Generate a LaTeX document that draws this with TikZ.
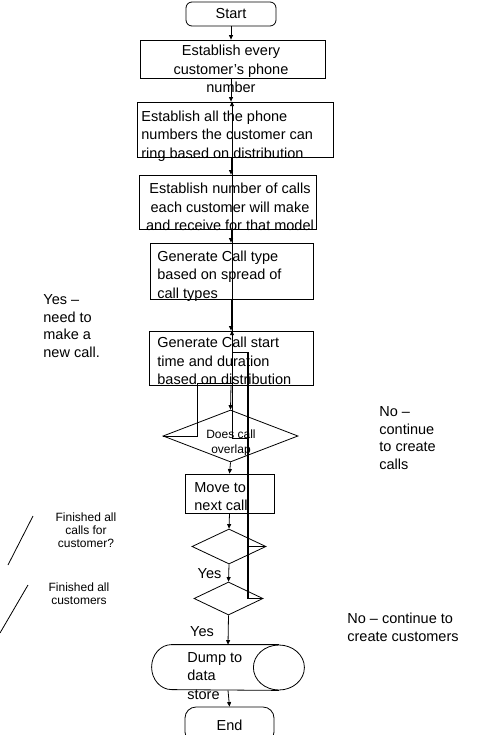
\documentclass[tikz,border=0pt]{standalone}
\usepackage{fontspec}
\setmainfont{Liberation Sans}
\usepackage{tikz}
\newcommand{\FlowFont}{\fontsize{14.5pt}{18.5pt}\selectfont}
\newcommand{\NoteFont}{\fontsize{14.5pt}{17.5pt}\selectfont}
\newcommand{\TinyNoteFont}{\fontsize{12pt}{13pt}\selectfont}
\usetikzlibrary{
	positioning,
	calc,
	arrows.meta,
	shapes.geometric
}
\begin{document}
\begin{tikzpicture}[
		x=1pt, y=-1pt,
		line width=0.8pt,
		framed/.style={draw, inner sep=0pt},
		terminal/.style={framed, font=\FlowFont},
		decision/.style={draw, diamond, inner sep=0pt},
		boxtext/.style={inner sep=0pt, font=\FlowFont},
		note/.style={inner sep=0pt, font=\NoteFont, align=left},
		tinynote/.style={inner sep=0pt, font=\TinyNoteFont, align=center},
		flow/.style={-{Triangle[length=4.5pt,width=4pt]}},
		loopline/.style={line width=0.8pt},
		loopthick/.style={line width=2pt}
	]
		\useasboundingbox (0,0) rectangle (477,735);

		\coordinate (spine) at (231,0);
		\coordinate (upline) at (232,0);

		\node[terminal, rounded corners=6pt, minimum width=90pt, minimum height=24pt] (start) at (231,14) {Start};

		\node[framed, minimum width=185pt, minimum height=38pt] (phonebox) at (232.5,59) {};
		\node[boxtext, align=center] (phonetext) at (231,69) {Establish every\\customer's phone\\number};

		\node[framed, minimum width=196pt, minimum height=55pt] (ringbox) at (235,129.5) {};
		\node[boxtext, align=left, anchor=west] (ringtext) at (141,136) {Establish all the phone\\numbers the customer can\\ring based on distribution};

		\node[framed, minimum width=177pt, minimum height=54pt] (callcountbox) at (227.5,202) {};
		\node[boxtext, align=center] (callcounttext) at (230,207) {Establish number of calls\\each customer will make\\and receive for that model};

		\node[framed, minimum width=163pt, minimum height=56pt] (calltypebox) at (231.5,271) {};
		\node[boxtext, align=left, anchor=west] (calltypetext) at (157,276) {Generate Call type\\based on spread of\\call types};

		\node[framed, minimum width=164pt, minimum height=54pt] (callstartbox) at (231,358) {};
		\node[boxtext, align=left, anchor=west] (callstarttext) at (157,361) {Generate Call start\\time and duration\\based on distribution};

		\node[decision, minimum width=135pt, minimum height=52pt] (overlap) at (230.5,436) {};
		\node[tinynote, font=\fontsize{12pt}{15pt}\selectfont] (overlaptext) at (231,443) {Does call\\overlap};

		\node[framed, minimum width=89pt, minimum height=39pt] (nextcallbox) at (229.5,493.5) {};
		\node[boxtext, align=left, anchor=west] (nextcalltext) at (194,496.5) {Move to\\next call};

		\node[decision, minimum width=74pt, minimum height=35pt] (lastcall) at (229,546.5) {};
		\node[decision, minimum width=69pt, minimum height=33pt] (lastcustomer) at (228.5,598.5) {};

		\node[inner sep=0pt, minimum width=152pt, minimum height=45pt] (dump) at (228,667.5) {};
		\draw ($(dump.north east)+(-25.5,0)$) -- ($(dump.north west)+(20,0)$)
			arc[start angle=270, end angle=90, x radius=20, y radius=22.5]
			-- ($(dump.south east)+(-25.5,0)$);
		\draw ($(dump.east)+(-25.5,0)$) ellipse [x radius=25.5, y radius=22.5];
		\node[boxtext, align=left, anchor=west] (dumptext) at (187,676) {Dump to\\data\\store};

		\node[terminal, rounded corners=11pt, minimum width=89pt, minimum height=36pt] (endnode) at (229.5,725) {End};

		\node[boxtext] (yescall) at (209.5,574) {Yes};
		\node[boxtext] (yescustomer) at (202,632) {Yes};

		\node[note, anchor=west] (newcallnote) at (43,326) {Yes –\\need to\\make a\\new call.};
		\node[note, anchor=west] (morecallsnote) at (379,438) {No –\\continue\\to create\\calls};
		\node[note, anchor=west] (morecustomersnote) at (347,627.5) {No – continue to\\create customers};
		\node[tinynote] (callsdonenote) at (86,530) {Finished all\\calls for\\customer?};
		\node[tinynote] (customersdonenote) at (79,593.5) {Finished all\\customers};

		\draw[flow] (start.south) -- (spine |- phonebox.north);
		\draw[flow] (spine |- phonebox.south) -- (spine |- ringbox.north);
		\draw[flow] (spine |- ringbox.south) -- (spine |- callcountbox.north);
		\draw[flow] (spine |- callcountbox.south) -- (spine |- calltypebox.north);
		\draw[flow] (spine |- calltypebox.south) -- (spine |- callstartbox.north);
		\draw[flow] (spine |- callstartbox.south) -- (overlap.north);
		\draw[flow] (overlap.south) -- (nextcallbox.north);
		\draw[flow] (nextcallbox.south) -- (lastcall.north);
		\draw[flow] (lastcall.south) -- (lastcustomer.north);
		\draw[flow] (lastcustomer.south) -- (dump.north);
		\draw[flow] (dump.south) -- (endnode.north);

		\coordinate (backtop) at (248,352);
		\coordinate (backbottom) at (248,438);
		\coordinate (yesturn) at (197,383);

		\draw[loopline] (overlap.west) -| (yesturn) -- (yesturn -| upline);
		\draw[loopline] (lastcall.east) -- (lastcall.east -| backtop);
		\draw[loopline] (lastcustomer.east) -- (lastcustomer.east -| backtop);
		\draw[loopthick] (lastcustomer.east -| backtop) -- (backtop);
		\draw[loopline, flow] (backtop) -- (backtop -| upline) -- (upline |- ringbox.north);
		\draw[loopline, flow] (backbottom) -- (backbottom -| upline) -- (upline |- callstartbox.north);

		\draw (33,516) -- (8,565);
		\draw (28,585) -- (0,633);
	\end{tikzpicture}
\end{document}
